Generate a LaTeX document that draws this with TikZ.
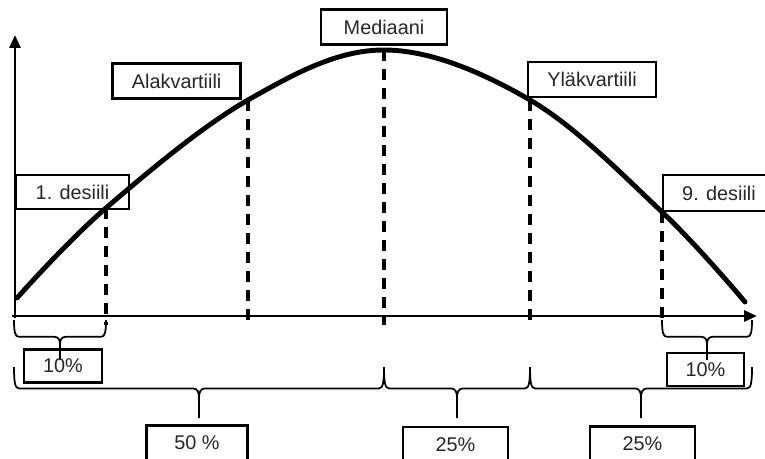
\documentclass[tikz,border=0pt]{standalone}
\usepackage{fontspec}
\setmainfont{Liberation Sans}
\usetikzlibrary{arrows.meta, positioning, calc}

\begin{document}
\begin{tikzpicture}[
    lbl/.style={draw, line width=1.5pt, minimum height=7mm,
                inner sep=0pt, font=\fontsize{11.3}{13}\selectfont,
                text=black!85},
    pct/.style={lbl, minimum height=6.6mm},
    axis/.style={line width=1.6pt, -{Triangle[length=2.6mm, width=2.2mm]}},
    curve/.style={line width=2.8pt, line cap=round},
    guide/.style={line width=2pt, dash pattern=on 2.2mm off 1.6mm},
    brc/.style={line width=1pt, to path={
      (\tikztostart) .. controls +(0,-0.3*#1) and +(-4,0)
        .. ($(\tikztostart)+(5,-0.42*#1)$)
      -- ($(\tikztostart)!.5!(\tikztotarget)+(-6,-0.42*#1)$)
        .. controls +(4,0) and +(0,0.12*#1)
        .. ($(\tikztostart)!.5!(\tikztotarget)+(0,-0.6*#1)$)
      -- ($(\tikztostart)!.5!(\tikztotarget)+(0,-#1)$)
      ($(\tikztostart)!.5!(\tikztotarget)+(0,-0.6*#1)$)
        .. controls +(0,0.12*#1) and +(-4,0)
        .. ($(\tikztostart)!.5!(\tikztotarget)+(6,-0.42*#1)$)
      -- ($(\tikztotarget)+(-5,-0.42*#1)$)
        .. controls +(4,0) and +(0,-0.3*#1) .. (\tikztotarget)}},
    x=0.2mm, y=0.2mm
  ]
  \useasboundingbox (0,0) rectangle (765,458);

  % axes
  \coordinate (xs) at (12,142);
  \coordinate (xe) at (757,142);
  \coordinate (ys) at (15,140);
  \coordinate (ye) at (15,423);
  \draw[axis] (xs) -- (xe);
  \draw[axis] (ys) -- (ye);

  % distribution curve
  \coordinate (c0) at (17,160);
  \coordinate (d1) at (106,250);
  \coordinate (q1) at (248,358);
  \coordinate (md) at (384,408);
  \coordinate (q3) at (530,358);
  \coordinate (d9) at (662,246);
  \coordinate (c1) at (745,156);
  \draw[curve] plot[smooth, tension=0.6]
    coordinates {(c0) (d1) (q1) (md) (q3) (d9) (c1)};

  % dashed guides
  \coordinate (tk) at (0,133);
  \foreach \p in {d1, q1, md, q3, d9}
    \draw[guide] (\p) -- (\p |- tk);

  % labels on the curve
  \node[lbl, minimum width=25.2mm, above=0.8mm of md] (med) {Mediaani};
  \node[lbl, minimum width=25.6mm, above left=0mm and 1.2mm of q1] (alk)
    {Alakvartiili};
  \node[lbl, minimum width=25.6mm, minimum height=7mm] (ylk) at (592,378.5)
    {Yläkvartiili};
  \node[lbl, minimum width=22.6mm, minimum height=6.8mm] (des1) at (72.5,266)
    {1. desiili};
  \node[lbl, minimum width=22.4mm, minimum height=7.2mm] (des9) at (719,265)
    {9. desiili};

  % braces
  \coordinate (ul) at (14,138);
  \coordinate (ur) at (752,138);
  \coordinate (ll) at (14,91);
  \coordinate (lr) at (752,91);
  \draw[brc=40] (ul) to (ul -| d1);
  \draw[brc=40] (ur -| d9) to (ur);
  \draw[brc=51] (ll) to (ll -| md);
  \draw[brc=51] (ll -| md) to (ll -| q3);
  \draw[brc=51] (ll -| q3) to (lr);

  % shares
  \node[pct, minimum width=15.6mm] (p10a) at (63,92) {10\%};
  \node[pct, minimum width=15.4mm] (p10b) at (705.5,88.5) {10\%};
  \node[pct, minimum width=20.2mm, minimum height=7mm] (p50) at (197,15) {50 \%};
  \node[pct, minimum width=21mm, minimum height=7mm] (p25a) at (455.5,13.5) {25\%};
  \node[pct, minimum width=21mm, minimum height=7mm] (p25b) at (642.5,14) {25\%};
\end{tikzpicture}
\end{document}
